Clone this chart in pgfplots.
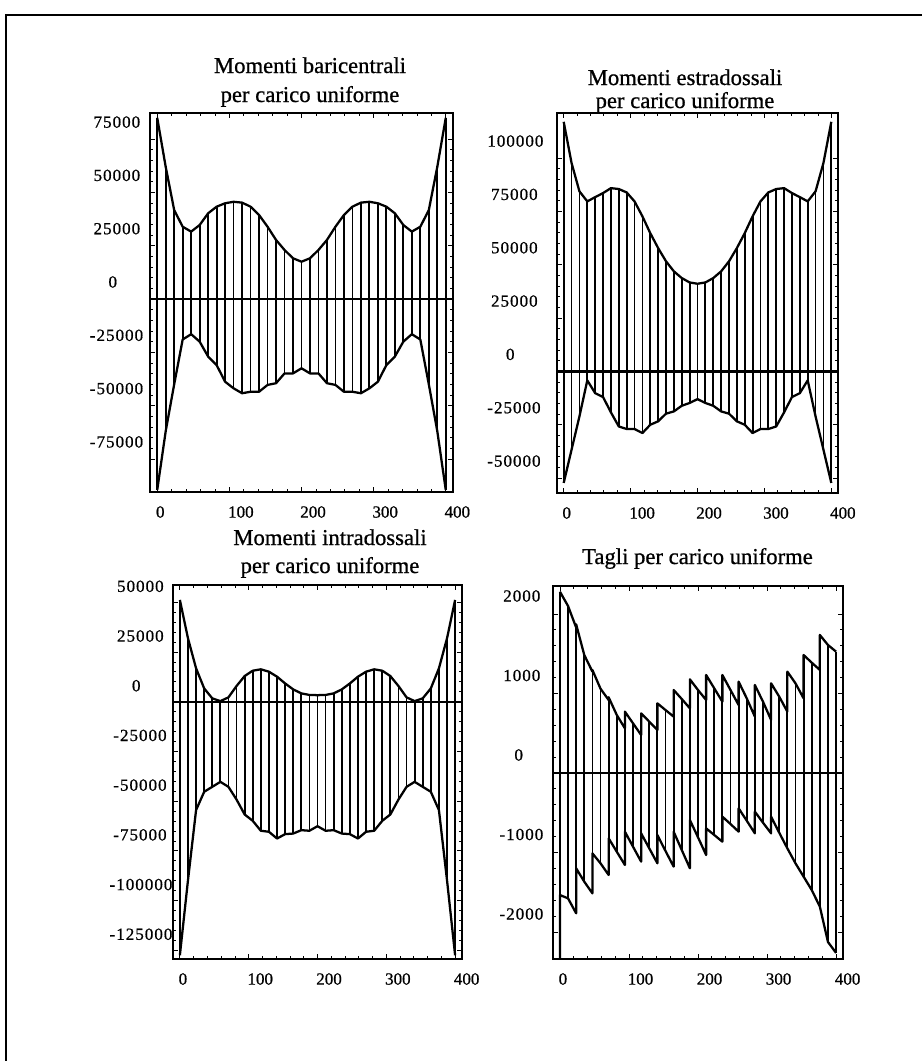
\documentclass[border=0pt]{standalone}
\usepackage{fontspec}
\setmainfont{Liberation Serif}[FakeBold=0.8]
\newfontfamily\ylf[LetterSpace=6,FakeBold=0.8]{Liberation Serif}
\usepackage{pgfplots}
\usepackage{pgfplotstable}
\pgfplotsset{compat=1.18}
\newcommand{\yl}[2]{\makebox[\dimexpr #1pt*28/10\relax][l]{\ylf #2}}
\newcommand{\tfont}{\fontsize{17pt}{20pt}\selectfont}

\pgfplotstableread{
x up lo
0 85000 -89600
11.76 62000 -62000
23.53 41700 -40000
35.29 33900 -19000
47.06 31600 -16500
58.82 34700 -20000
70.59 40200 -27000
82.35 43300 -31000
94.12 44900 -38800
105.88 45600 -41900
117.65 45200 -44200
129.41 43300 -43500
141.18 39400 -43500
152.94 33900 -40300
164.71 27700 -39500
176.47 23000 -34900
188.24 19100 -34900
200 17500 -32500
211.76 19100 -34900
223.53 23000 -34900
235.29 27700 -39500
247.06 33900 -40300
258.82 39400 -43500
270.59 43300 -43500
282.35 45200 -44200
294.12 45600 -41900
305.88 44900 -38800
317.65 43300 -31000
329.41 40200 -27000
341.18 34700 -20000
352.94 31600 -16500
364.71 33900 -19000
376.47 41700 -40000
388.24 62000 -62000
400 85000 -89600
}\pA

\pgfplotstableread{
x up lo
0 117000 -52300
11.76 97700 -36700
23.53 84400 -21100
35.29 79700 -4200
47.06 81700 -10200
58.82 83600 -12000
70.59 85900 -19200
82.35 85500 -25800
94.12 83900 -27000
105.88 79700 -27000
117.65 72700 -28900
129.41 64800 -25000
141.18 57800 -23400
152.94 51600 -19800
164.71 46900 -18750
176.47 43750 -16100
188.24 41700 -14800
200 41100 -13000
211.76 41700 -14800
223.53 43750 -16100
235.29 46900 -18750
247.06 51600 -19800
258.82 57800 -23400
270.59 64800 -25000
282.35 72700 -28900
294.12 79700 -27000
305.88 83900 -27000
317.65 85500 -25800
329.41 85900 -19200
341.18 83600 -12000
352.94 81700 -10200
364.71 79700 -4200
376.47 84400 -21100
388.24 97700 -36700
400 117000 -52300
}\pB

\pgfplotstableread{
x up lo
0 51200 -127500
11.76 31900 -89800
23.53 16800 -54500
35.29 6700 -45300
47.06 1700 -42800
58.82 300 -40300
70.59 2200 -42800
82.35 7900 -49200
94.12 12900 -56700
105.88 15600 -59900
117.65 16300 -64900
129.41 15100 -65400
141.18 12600 -68800
152.94 9200 -66600
164.71 6200 -66300
176.47 4200 -64600
188.24 3400 -64900
200 3300 -62600
211.76 3400 -64900
223.53 4200 -64600
235.29 6200 -66300
247.06 9200 -66600
258.82 12600 -68800
270.59 15100 -65400
282.35 16300 -64900
294.12 15600 -59900
305.88 12900 -56700
317.65 7900 -49200
329.41 2200 -42800
341.18 300 -40300
352.94 1700 -42800
364.71 6700 -45300
376.47 16800 -54500
388.24 31900 -89800
400 51200 -127500
}\pC

\pgfplotstableread{
x v
0 2281
11.76 2101
23.53 1830
23.53 1870
35.29 1484
47.06 1275
47.06 1296
58.82 1060
70.59 918
70.59 952
82.35 730
94.12 562
94.12 772
105.88 625
117.65 478
117.65 750
129.41 646
141.18 541
141.18 876
152.94 792
164.71 709
164.71 1044
176.47 931
188.24 813
188.24 1178
200 1044
211.76 918
211.76 1233
223.53 1065
235.29 897
235.29 1233
247.06 1044
258.82 855
258.82 1149
270.59 939
282.35 709
282.35 1107
294.12 897
305.88 667
305.88 1128
317.65 960
329.41 772
329.41 1275
341.18 1128
352.94 939
352.94 1484
364.71 1388
376.47 1296
376.47 1736
388.24 1610
400 1526
}\pDtop

\pgfplotstableread{
x v
0 -2340
0 -1535
11.76 -1577
23.53 -1765
23.53 -1199
35.29 -1367
47.06 -1514
47.06 -1011
58.82 -1136
70.59 -1283
70.59 -822
82.35 -990
94.12 -1157
94.12 -738
105.88 -927
117.65 -1115
117.65 -759
129.41 -948
141.18 -1136
141.18 -780
152.94 -981
164.71 -1178
164.71 -738
176.47 -969
188.24 -1199
188.24 -591
200 -809
211.76 -1031
211.76 -696
223.53 -780
235.29 -864
235.29 -549
247.06 -642
258.82 -738
258.82 -444
270.59 -600
282.35 -759
282.35 -486
294.12 -625
305.88 -759
305.88 -549
317.65 -751
329.41 -948
341.18 -1136
352.94 -1304
364.71 -1472
376.47 -1681
388.24 -2126
400 -2264
}\pDbot

\pgfplotsset{
  panel/.style={
    scale only axis, anchor=south west,
    xmin=-10, xmax=410,
    scaled y ticks=false, scaled x ticks=false,
    xtick={0,100,200,300,400}, xticklabels={0,100,200,300,400},
    minor x tick num=4, minor y tick num=4,
    tick align=inside, major tick length=4pt, minor tick length=2pt,
    every tick/.style={line width=0.6pt, black},
    axis line style={line width=1.5pt},
    tick label style={font=\fontsize{12.75pt}{14pt}\selectfont},
    xticklabel style={anchor=north west, inner sep=0pt, xshift=-1.1pt, yshift=-10.5pt},
    yticklabel style={anchor=east, inner sep=0pt},
    every axis plot/.append style={line width=1.5pt, black, mark=none},
    comb/.style={ycomb, line width=1.35pt},
    env/.style={sharp plot, line width=1.7pt, line join=round},
  }
}

\begin{document}
\begin{tikzpicture}
\path[use as bounding box] (0,0) rectangle (691.5pt,-795.75pt);
\draw[line width=2pt] (4.5pt,-795.75pt) |- (691.5pt,-11.25pt);

% Panel 1
\begin{axis}[panel, at={(112.5pt,-369pt)}, width=227.25pt, height=284.25pt,
  ymin=-90520, ymax=87230,
  ytick={-75000,-50000,-25000,0,25000,50000,75000},
  yticklabels={\yl6{-75000},\yl6{-50000},\yl6{-25000},\yl1{0},\yl5{25000},\yl5{50000},\yl5{75000}},
  yticklabel style={xshift=-28.1pt, yshift=12.75pt}]
\addplot[comb] table[x=x,y=up]{\pA};
\addplot[comb] table[x=x,y=lo]{\pA};
\addplot[env] table[x=x,y=up]{\pA};
\addplot[env] table[x=x,y=lo]{\pA};
\addplot[env] coordinates {(-10,0) (410,0)};
\end{axis}

% Panel 2
\begin{axis}[panel, at={(417.75pt,-369.75pt)}, width=210.75pt, height=285pt,
  ymin=-57000, ymax=121130,
  ytick={-50000,-25000,0,25000,50000,75000,100000},
  yticklabels={\yl6{-50000},\yl6{-25000},\yl1{0},\yl5{25000},\yl5{50000},\yl5{75000},\yl6{100000}},
  yticklabel style={xshift=-35.25pt, yshift=12.75pt}]
\addplot[comb] table[x=x,y=up]{\pB};
\addplot[comb] table[x=x,y=lo]{\pB};
\addplot[env] table[x=x,y=up]{\pB};
\addplot[env] table[x=x,y=lo]{\pB};
\addplot[env] coordinates {(-10,0) (410,0)};
\end{axis}

% Panel 3
\begin{axis}[panel, at={(129.75pt,-719.25pt)}, width=216.75pt, height=280.5pt,
  ymin=-129400, ymax=58700,
  ytick={-125000,-100000,-75000,-50000,-25000,0,25000,50000},
  yticklabels={\yl7{-125000},\yl7{-100000},\yl6{-75000},\yl6{-50000},\yl6{-25000},\yl1{0},\yl5{25000},\yl5{50000}},
  yticklabel style={xshift=-27.75pt, yshift=12pt}]
\addplot[comb] table[x=x,y=up]{\pC};
\addplot[comb] table[x=x,y=lo]{\pC};
\addplot[env] table[x=x,y=up]{\pC};
\addplot[env] table[x=x,y=lo]{\pC};
\addplot[env] coordinates {(-10,0) (410,0)};
\end{axis}

% Panel 4
\begin{axis}[panel, at={(414.75pt,-719.25pt)}, width=217.5pt, height=279.75pt,
  ymin=-2340, ymax=2352,
  ytick={-2000,-1000,0,1000,2000},
  yticklabels={\yl5{-2000},\yl5{-1000},\yl1{0},\yl4{1000},\yl4{2000}},
  yticklabel style={xshift=-25.9pt, yshift=13.5pt}]
\addplot[comb] table[x=x,y=v]{\pDtop};
\addplot[comb] table[x=x,y=v]{\pDbot};
\addplot[env] table[x=x,y=v]{\pDtop};
\addplot[env] table[x=x,y=v]{\pDbot};
\addplot[env] coordinates {(-10,0) (410,0)};
\end{axis}

% Titles
\node[anchor=base, font=\tfont] at (232.5pt,-54.75pt) {Momenti baricentrali};
\node[anchor=base, font=\tfont] at (232.5pt,-76.5pt) {per carico uniforme};
\node[anchor=base, font=\tfont] at (513.75pt,-63.75pt) {Momenti estradossali};
\node[anchor=base, font=\tfont] at (513.75pt,-81pt) {per carico uniforme};
\node[anchor=base, font=\tfont] at (247.5pt,-408.75pt) {Momenti intradossali};
\node[anchor=base, font=\tfont] at (247.5pt,-429.75pt) {per carico uniforme};
\node[anchor=base, font=\tfont] at (523.1pt,-423pt) {Tagli per carico uniforme};
\end{tikzpicture}
\end{document}
